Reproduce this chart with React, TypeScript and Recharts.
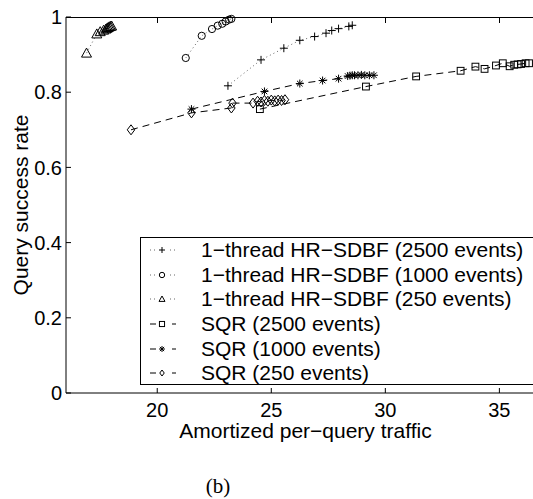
import React from "react";
import { LineChart, Line, XAxis, YAxis, Legend, CartesianGrid } from "recharts";

// values
const hr2500X = [23.1, 24.55, 25.55, 26.25, 26.9, 27.4, 27.65, 27.95, 28.4, 28.55];
const hr2500Y = [0.817, 0.886, 0.917, 0.938, 0.948, 0.957, 0.964, 0.969, 0.975, 0.978];

const hr1000X = [21.25, 21.95, 22.4, 22.65, 22.85, 23.0, 23.15, 23.25];
const hr1000Y = [0.891, 0.95, 0.968, 0.977, 0.982, 0.988, 0.993, 0.995];

const hr250X = [16.9, 17.35, 17.5, 17.65, 17.75, 17.8, 17.85, 17.9, 17.95, 18.0];
const hr250Y = [0.904, 0.955, 0.961, 0.965, 0.968, 0.97, 0.972, 0.974, 0.975, 0.976];

const sqr2500X = [24.5, 29.15, 31.35, 33.3, 33.95, 34.35, 34.85, 35.15, 35.45, 35.65, 35.8, 35.95, 36.15, 36.3];
const sqr2500Y = [0.755, 0.815, 0.842, 0.857, 0.868, 0.862, 0.871, 0.877, 0.869, 0.873, 0.874, 0.875, 0.877, 0.877];

const sqr1000X = [21.5, 24.7, 26.25, 27.25, 27.95, 28.35, 28.45, 28.55, 28.65, 28.8, 28.95, 29.1, 29.3, 29.5];
const sqr1000Y = [0.755, 0.802, 0.823, 0.831, 0.836, 0.843, 0.844, 0.845, 0.845, 0.845, 0.846, 0.845, 0.845, 0.845];

const sqr250X = [18.85, 21.5, 23.25, 23.3, 24.2, 24.4, 24.55, 24.7, 24.85, 25.0, 25.15, 25.3, 25.45, 25.6];
const sqr250Y = [0.7, 0.745, 0.758, 0.771, 0.771, 0.776, 0.774, 0.778, 0.776, 0.779, 0.777, 0.779, 0.778, 0.78];

const xTicks = [20, 25, 30, 35];
const yTicks = [0, 0.2, 0.4, 0.6, 0.8, 1];
const xDomain = [16, 37];

const pts = (xs: number[], ys: number[]) => xs.map((x, i) => ({ x, y: ys[i] }));

const DOTTED = "1 3";
const DASHED = "7 5";

// chart geometry
const W = 560;
const H = 499;
const M = { top: 17, right: 15, left: 0, bottom: 56 };
const Y_AXIS_W = 66;
const plotLeft = M.left + Y_AXIS_W;
const plotRight = W - M.right;

const series = [
  { name: "1\u2212thread HR\u2212SDBF (2500 events)", data: pts(hr2500X, hr2500Y), kind: "plus", dash: DOTTED, color: "#666" },
  { name: "1\u2212thread HR\u2212SDBF (1000 events)", data: pts(hr1000X, hr1000Y), kind: "circle", dash: DOTTED, color: "#666" },
  { name: "1\u2212thread HR\u2212SDBF (250 events)", data: pts(hr250X, hr250Y), kind: "triangle", dash: DOTTED, color: "#666" },
  { name: "SQR (2500 events)", data: pts(sqr2500X, sqr2500Y), kind: "square", dash: DASHED, color: "#000" },
  { name: "SQR (1000 events)", data: pts(sqr1000X, sqr1000Y), kind: "star", dash: DASHED, color: "#000" },
  { name: "SQR (250 events)", data: pts(sqr250X, sqr250Y), kind: "diamond", dash: DASHED, color: "#000" },
];

function Marker({ kind, cx, cy, s }: { kind: string; cx: number; cy: number; s: number }) {
  const st = { fill: "none", stroke: "#000", strokeWidth: 1 };
  switch (kind) {
    case "plus":
      return <path d={`M${cx - s},${cy}H${cx + s}M${cx},${cy - s}V${cy + s}`} {...st} />;
    case "circle":
      return <circle cx={cx} cy={cy} r={s * 0.9} {...st} />;
    case "triangle":
      return <polygon points={`${cx},${cy - s} ${cx - s},${cy + s * 0.8} ${cx + s},${cy + s * 0.8}`} {...st} />;
    case "square":
      return <rect x={cx - s * 0.85} y={cy - s * 0.85} width={s * 1.7} height={s * 1.7} {...st} />;
    case "star": {
      const d = s * 0.7;
      return (
        <path
          d={`M${cx - s},${cy}H${cx + s}M${cx},${cy - s}V${cy + s}M${cx - d},${cy - d}L${cx + d},${cy + d}M${cx - d},${cy + d}L${cx + d},${cy - d}`}
          {...st}
        />
      );
    }
    default:
      return <polygon points={`${cx},${cy - s} ${cx + s * 0.75},${cy} ${cx},${cy + s} ${cx - s * 0.75},${cy}`} {...st} />;
  }
}

function LegendBox() {
  return (
    <div
      style={{
        border: "1px solid #000",
        background: "#fff",
        width: 420,
        height: 148,
        boxSizing: "border-box",
      }}
    >
      {series.map((s) => (
        <div key={s.name} style={{ display: "flex", alignItems: "center", height: 24.6 }}>
          <svg width={60} height={20} style={{ flex: "none" }}>
            <line x1={9} x2={35} y1={10} y2={10} stroke={s.color} strokeDasharray={s.dash === DOTTED ? "1 3" : "6 5"} />
            <rect x={16} y={5} width={12} height={10} fill="#fff" />
            <Marker kind={s.kind} cx={21} cy={10} s={3} />
          </svg>
          <span style={{ fontSize: 21, whiteSpace: "nowrap", color: "#000" }}>{s.name}</span>
        </div>
      ))}
    </div>
  );
}

function YLabel() {
  return (
    <text x={28} y={205} textAnchor="middle" transform="rotate(-90, 28, 205)" fontSize={21} fill="#000">
      Query success rate
    </text>
  );
}

// top edge of the axes box with its inward ticks
function TopFrame() {
  const toPx = (t: number) => plotLeft + ((t - xDomain[0]) / (xDomain[1] - xDomain[0])) * (plotRight - plotLeft);
  return (
    <div style={{ position: "absolute", left: 0, top: 0, pointerEvents: "none" }}>
      <div style={{ position: "absolute", left: plotLeft, top: M.top, width: plotRight - plotLeft, height: 1, background: "#000" }} />
      {xTicks.map((t) => (
        <div key={t} style={{ position: "absolute", left: Math.round(toPx(t)), top: M.top, width: 1, height: 6, background: "#000" }} />
      ))}
    </div>
  );
}

export default function App() {
  return (
    <div
      style={{
        position: "absolute",
        left: 0,
        top: 0,
        width: 533,
        height: 499,
        overflow: "hidden",
        background: "#fff",
        fontFamily: "'Liberation Sans', Arial, sans-serif",
      }}
    >
      <LineChart width={W} height={H} margin={M}>
        <XAxis
          type="number"
          dataKey="x"
          domain={xDomain}
          allowDataOverflow
          ticks={xTicks}
          height={50}
          tickSize={-5}
          tickMargin={15}
          tick={{ fontSize: 20, fill: "#000" }}
          axisLine={{ stroke: "#000" }}
          tickLine={{ stroke: "#000" }}
          label={{ value: "Amortized per\u2212query traffic", position: "insideBottom", offset: 5, fontSize: 21, fill: "#000" }}
        />
        <YAxis
          type="number"
          domain={[0, 1]}
          ticks={yTicks}
          width={Y_AXIS_W}
          tickSize={-5}
          tickMargin={9}
          tick={{ fontSize: 20, fill: "#000" }}
          axisLine={{ stroke: "#000" }}
          tickLine={{ stroke: "#000" }}
          label={{ content: () => <YLabel /> }}
        />
        <Legend
          layout="horizontal"
          verticalAlign="middle"
          align="center"
          wrapperStyle={{ left: 140, top: 237, width: 420, height: 150 }}
          content={() => <LegendBox />}
        />
        {series.map((s) => (
          <Line
            key={s.name}
            data={s.data}
            dataKey="y"
            name={s.name}
            type="linear"
            stroke={s.color}
            strokeWidth={1}
            strokeDasharray={s.dash}
            isAnimationActive={false}
            activeDot={false}
            dot={(p: any) => <Marker key={`${s.kind}-${p.index}`} kind={s.kind} cx={p.cx} cy={p.cy} s={s.kind === "triangle" ? 5 : s.kind === "diamond" ? 5 : 4} />}
          />
        ))}
      </LineChart>
      <TopFrame />
      <div
        style={{
          position: "absolute",
          left: 188,
          top: 476,
          width: 60,
          textAlign: "center",
          fontFamily: "'Liberation Serif', 'Times New Roman', serif",
          fontSize: 21,
          lineHeight: "21px",
        }}
      >
        (b)
      </div>
    </div>
  );
}
